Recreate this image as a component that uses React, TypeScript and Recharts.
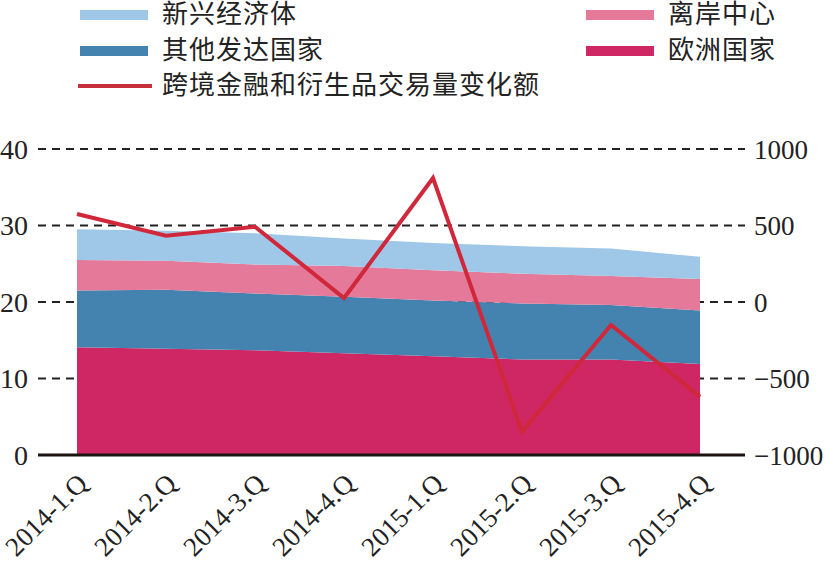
import React from "react";
import {
  ComposedChart,
  Area,
  Line,
  XAxis,
  YAxis,
  CartesianGrid,
} from "recharts";

const quarters = [
  "2014-1.Q",
  "2014-2.Q",
  "2014-3.Q",
  "2014-4.Q",
  "2015-1.Q",
  "2015-2.Q",
  "2015-3.Q",
  "2015-4.Q",
];

// stacked areas, left axis
const europe = [14.1, 13.9, 13.7, 13.3, 12.9, 12.5, 12.5, 11.9];
const otherDeveloped = [7.4, 7.7, 7.4, 7.4, 7.3, 7.3, 7.1, 7.0];
const offshore = [4.0, 3.8, 3.8, 4.0, 3.95, 3.9, 3.8, 4.1];
const emerging = [4.0, 3.9, 4.1, 3.6, 3.55, 3.6, 3.6, 2.9];

// line, right axis
const flowChange = [575, 433, 492, 26, 810, -848, -150, -619];

const leftTicks = [0, 10, 20, 30, 40];
const rightTicks = [-1000, -500, 0, 500, 1000];

const COLORS = {
  emerging: "#9fc7e7",
  offshore: "#e47999",
  otherDeveloped: "#4483b0",
  europe: "#cf2763",
  line: "#d0283a",
};

const data = quarters.map((q, i) => ({
  quarter: q,
  europe: europe[i],
  otherDeveloped: otherDeveloped[i],
  offshore: offshore[i],
  emerging: emerging[i],
  flow: flowChange[i],
}));

const FONT = "Liberation Serif, Times New Roman, DejaVu Serif, Noto Sans CJK SC, serif";

const legendItems = [
  { name: "新兴经济体", color: COLORS.emerging, kind: "area", col: 0, row: 0 },
  { name: "离岸中心", color: COLORS.offshore, kind: "area", col: 1, row: 0 },
  { name: "其他发达国家", color: COLORS.otherDeveloped, kind: "area", col: 0, row: 1 },
  { name: "欧洲国家", color: COLORS.europe, kind: "area", col: 1, row: 1 },
  { name: "跨境金融和衍生品交易量变化额", color: "#c3303b", kind: "line", col: 0, row: 2 },
];

const XTick = (props: any) => {
  const { x, y, payload } = props;
  const ex = x + 12;
  const ey = y + 22;
  return (
    <text
      x={ex}
      y={ey}
      transform={`rotate(-45 ${ex} ${ey})`}
      textAnchor="end"
      style={{ fontFamily: FONT }}
      fontSize={27}
      fill="#222"
    >
      {payload.value}
    </text>
  );
};

const fmtRight = (v: number) => (v < 0 ? "\u2212" + Math.abs(v) : String(v));

const tickStyle = { fontSize: 28, fill: "#222", style: { fontFamily: FONT } };
const rightTickStyle = { fontSize: 27, fill: "#222", style: { fontFamily: FONT } };

export default function App() {
  return (
    <div
      style={{
        position: "absolute",
        left: 0,
        top: 0,
        width: 825,
        height: 566,
        background: "#fff",
        fontFamily: FONT,
      }}
    >
      {legendItems.map((it) => {
        const left = it.col === 0 ? 80 : 586;
        const top = [15, 51, 86][it.row];
        return (
          <div key={it.name}>
            <div
              style={{
                position: "absolute",
                left: it.kind === "line" ? left - 2 : left,
                top: top - (it.kind === "line" ? 2 : 5),
                width: it.kind === "line" ? 74 : 68,
                height: it.kind === "line" ? 4 : 10,
                background: it.color,
              }}
            />
            <div
              style={{
                position: "absolute",
                left: left + 82,
                top: top - 17,
                fontSize: 26,
                lineHeight: "34px",
                color: "#222",
                whiteSpace: "nowrap",
                letterSpacing: 1,
              }}
            >
              {it.name}
            </div>
          </div>
        );
      })}
      <ComposedChart
        width={825}
        height={566}
        data={data}
        margin={{ top: 149, right: 0, bottom: 0, left: 0 }}
        style={{ fontFamily: FONT }}
      >
        <CartesianGrid
          yAxisId="left"
          vertical={false}
          stroke="#222"
          strokeWidth={2}
          strokeDasharray="8 6"
        />
        <XAxis
          dataKey="quarter"
          height={111}
          padding={{ left: 39, right: 45 }}
          tickLine={false}
          axisLine={{ stroke: "#1c1410", strokeWidth: 3 }}
          tick={<XTick />}
          interval={0}
        />
        <YAxis
          yAxisId="left"
          width={38}
          domain={[0, 40]}
          ticks={leftTicks}
          axisLine={false}
          tickLine={false}
          tickMargin={4}
          tick={tickStyle}
        />
        <YAxis
          yAxisId="right"
          orientation="right"
          width={80}
          domain={[-1000, 1000]}
          ticks={rightTicks}
          axisLine={false}
          tickLine={false}
          tickMargin={3}
          tickFormatter={fmtRight}
          tick={rightTickStyle}
        />
        <Area
          yAxisId="left"
          dataKey="europe"
          stackId="s"
          type="linear"
          stroke="none"
          fill={COLORS.europe}
          fillOpacity={1}
          isAnimationActive={false}
        />
        <Area
          yAxisId="left"
          dataKey="otherDeveloped"
          stackId="s"
          type="linear"
          stroke="none"
          fill={COLORS.otherDeveloped}
          fillOpacity={1}
          isAnimationActive={false}
        />
        <Area
          yAxisId="left"
          dataKey="offshore"
          stackId="s"
          type="linear"
          stroke="none"
          fill={COLORS.offshore}
          fillOpacity={1}
          isAnimationActive={false}
        />
        <Area
          yAxisId="left"
          dataKey="emerging"
          stackId="s"
          type="linear"
          stroke="none"
          fill={COLORS.emerging}
          fillOpacity={1}
          isAnimationActive={false}
        />
        <Line
          yAxisId="right"
          dataKey="flow"
          type="linear"
          stroke={COLORS.line}
          strokeWidth={4}
          dot={false}
          activeDot={false}
          isAnimationActive={false}
        />
      </ComposedChart>
    </div>
  );
}
